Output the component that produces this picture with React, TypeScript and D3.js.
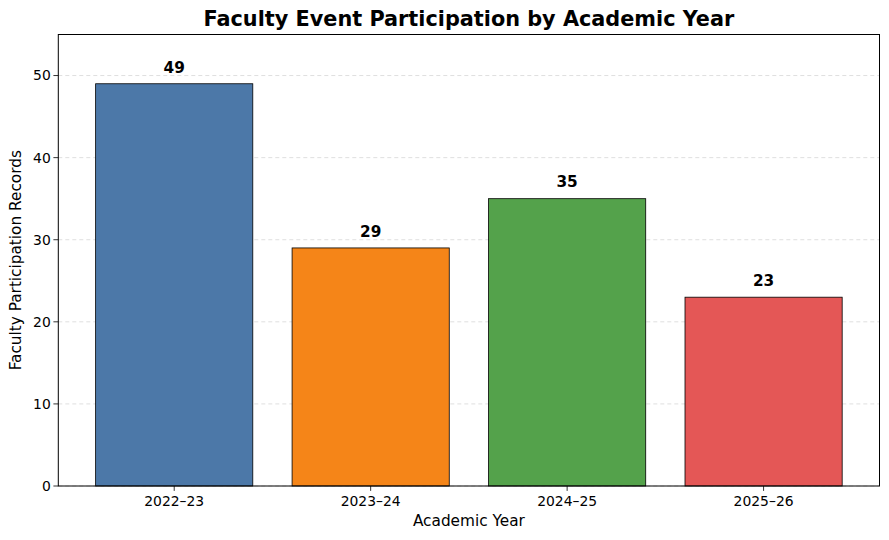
import React from 'react';
import * as d3 from 'd3';

const years = ['2022–23', '2023–24', '2024–25', '2025–26'];
const records = [49, 29, 35, 23];
const barColors = ['#4c78a8', '#f58518', '#54a24b', '#e45756'];
const yTicks = [0, 10, 20, 30, 40, 50];

const W = 889;
const H = 540;
const margin = { top: 34.5, right: 9.5, bottom: 54, left: 58.3 };
const font = 'DejaVu Sans, sans-serif';

const App: React.FC = () => {
  const innerW = W - margin.left - margin.right;
  const innerH = H - margin.top - margin.bottom;

  // matplotlib-like xlim: bars of width 0.8 with 5% margins
  const x = d3.scaleLinear().domain([-0.59, years.length - 1 + 0.59]).range([0, innerW]);
  const y = d3.scaleLinear().domain([0, 55]).range([innerH, 0]);
  const barW = x(0.8) - x(0);

  return (
    <svg width={W} height={H} style={{ position: 'absolute', left: 0, top: 0, background: '#fff' }} fontFamily={font}>
      <text x={margin.left + innerW / 2} y={25.5} textAnchor="middle" fontSize={20.8} fontWeight="bold">
        Faculty Event Participation by Academic Year
      </text>
      <g transform={`translate(${margin.left},${margin.top})`}>
        {yTicks.map(t => (
          <line key={t} x1={0} x2={innerW} y1={y(t)} y2={y(t)} stroke="#b0b0b0" strokeOpacity={0.5} strokeWidth={0.8} strokeDasharray="4,3" />
        ))}
        {records.map((v, i) => (
          <g key={years[i]}>
            <rect x={x(i) - barW / 2} y={y(v)} width={barW} height={innerH - y(v)} fill={barColors[i]} stroke="#000" strokeWidth={0.8} />
            <text x={x(i)} y={y(v + 1) - 3} textAnchor="middle" fontSize={15.3} fontWeight="bold">{v}</text>
          </g>
        ))}
        <rect x={0} y={0} width={innerW} height={innerH} fill="none" stroke="#000" strokeWidth={1} />
        {yTicks.map(t => (
          <g key={t} transform={`translate(0,${y(t)})`}>
            <line x1={-4.9} x2={0} stroke="#000" strokeWidth={0.8} />
            <text x={-7.5} dy="0.35em" textAnchor="end" fontSize={13.9}>{t}</text>
          </g>
        ))}
        {years.map((yr, i) => (
          <g key={yr} transform={`translate(${x(i)},${innerH})`}>
            <line y1={0} y2={4.9} stroke="#000" strokeWidth={0.8} />
            <text y={20} textAnchor="middle" fontSize={13.9}>{yr}</text>
          </g>
        ))}
        <text x={innerW / 2} y={innerH + 40} textAnchor="middle" fontSize={15.3}>Academic Year</text>
        <text transform={`translate(${-37.5},${innerH / 2}) rotate(-90)`} textAnchor="middle" fontSize={15.3}>
          Faculty Participation Records
        </text>
      </g>
    </svg>
  );
};

export default App;
